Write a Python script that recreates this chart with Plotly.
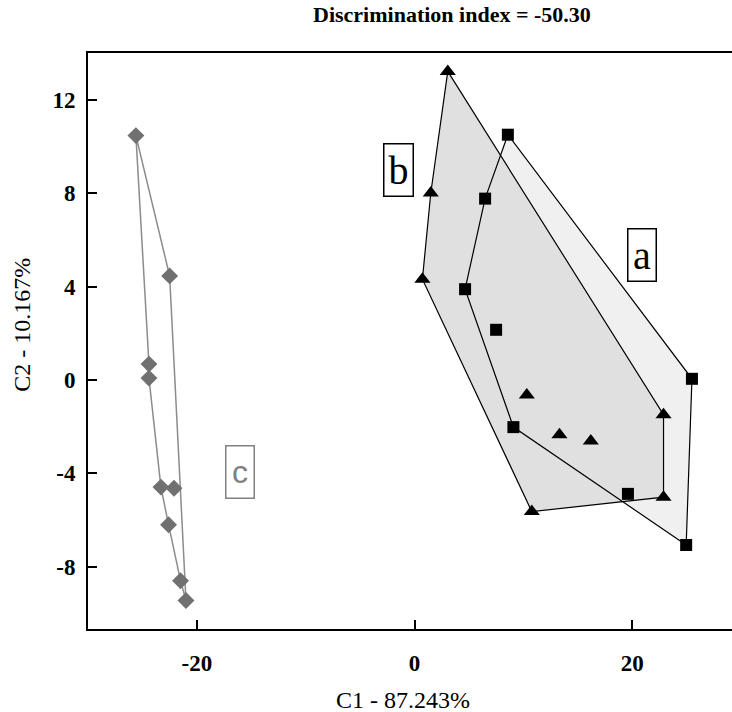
import plotly.graph_objects as go

# Group a (squares)
a_x = [8.57, 6.48, 4.64, 7.49, 25.48, 9.08, 19.6, 24.95]
a_y = [10.51, 7.77, 3.89, 2.15, 0.05, -2.02, -4.88, -7.07]
a_hull = [0, 4, 7, 5, 2, 1]

# Group b (triangles)
b_x = [3.05, 1.49, 0.72, 10.31, 13.31, 16.19, 22.87, 22.87, 10.77]
b_y = [13.22, 8.01, 4.32, -0.64, -2.35, -2.61, -1.49, -5.02, -5.64]
b_hull = [0, 6, 7, 8, 2, 1]

# Group c (diamonds)
c_x = [-25.6, -22.5, -24.4, -24.4, -23.3, -22.1, -22.6, -21.5, -21.0]
c_y = [10.47, 4.46, 0.68, 0.08, -4.59, -4.64, -6.20, -8.60, -9.45]
c_hull = [0, 1, 8, 7, 6, 4, 3, 2]

x_ticks = [-20, 0, 20]
y_ticks = [-8, -4, 0, 4, 8, 12]

title_text = "Discrimination index = -50.30"
x_title = "C1 - 87.243%"
y_title = "C2 - 10.167%"


def closed(xs, ys, order):
    idx = order + [order[0]]
    return [xs[i] for i in idx], [ys[i] for i in idx]


fig = go.Figure()

ax_, ay_ = closed(a_x, a_y, a_hull)
bx_, by_ = closed(b_x, b_y, b_hull)
cx_, cy_ = closed(c_x, c_y, c_hull)

# fills
fig.add_trace(go.Scatter(x=ax_, y=ay_, mode="lines", fill="toself",
                         fillcolor="#f0f0f0", line=dict(width=0, color="rgba(0,0,0,0)")))
fig.add_trace(go.Scatter(x=bx_, y=by_, mode="lines", fill="toself",
                         fillcolor="#e0e0e0", line=dict(width=0, color="rgba(0,0,0,0)")))
# outlines
fig.add_trace(go.Scatter(x=ax_, y=ay_, mode="lines", line=dict(color="black", width=1.2)))
fig.add_trace(go.Scatter(x=bx_, y=by_, mode="lines", line=dict(color="black", width=1.2)))
fig.add_trace(go.Scatter(x=cx_, y=cy_, mode="lines", line=dict(color="#8c8c8c", width=1.5)))
# markers
fig.add_trace(go.Scatter(x=a_x, y=a_y, mode="markers",
                         marker=dict(symbol="square", size=12, color="black")))
fig.add_trace(go.Scatter(x=b_x, y=b_y, mode="markers",
                         marker=dict(symbol="triangle-up", size=14, color="black")))
fig.add_trace(go.Scatter(x=c_x, y=c_y, mode="markers",
                         marker=dict(symbol="diamond", size=13, color="#707070")))

serif = "Liberation Serif"

fig.update_layout(
    width=732, height=712, autosize=False,
    margin=dict(l=88, r=0, t=53, b=83, pad=0),
    paper_bgcolor="white", plot_bgcolor="white",
    showlegend=False, hovermode=False,
    font=dict(family=serif, color="black"),
)

fig.update_xaxes(
    range=[-30.0, 29.16], tickvals=x_ticks, ticktext=[str(v) for v in x_ticks],
    showgrid=False, zeroline=False, showline=True, linecolor="black", linewidth=2,
    mirror=True, ticks="inside", ticklen=9, tickwidth=1.5, tickcolor="black",
    tickfont=dict(family=serif, size=23, weight="bold", color="black"),
    ticklabelstandoff=12,
)
fig.update_yaxes(
    range=[-10.67, 14.01], tickvals=y_ticks, ticktext=[str(v) for v in y_ticks],
    showgrid=False, zeroline=False, showline=True, linecolor="black", linewidth=2,
    mirror=False, ticks="inside", ticklen=9, tickwidth=1.5, tickcolor="black",
    tickfont=dict(family=serif, size=23, weight="bold", color="black"),
    ticklabelstandoff=6,
)

annotations = [
    dict(text=title_text, xref="paper", yref="paper", x=0.565, y=1.0665,
         xanchor="center", yanchor="middle", showarrow=False,
         font=dict(family=serif, size=22, weight="bold", color="black")),
    dict(text=x_title, xref="paper", yref="paper", x=0.489, y=-0.1233,
         xanchor="center", yanchor="middle", showarrow=False,
         font=dict(family=serif, size=24, color="black")),
    dict(text=y_title, xref="paper", yref="paper", x=-0.1025, y=0.528,
         xanchor="center", yanchor="middle", showarrow=False, textangle=-90,
         font=dict(family=serif, size=24, color="black")),
    dict(text="b", x=-1.44, y=9.01, xref="x", yref="y", showarrow=False,
         xanchor="center", yanchor="middle", width=28, height=51,
         bordercolor="black", borderwidth=1.5, borderpad=0, bgcolor="white",
         font=dict(family=serif, size=40, color="black")),
    dict(text="a", x=20.9, y=5.37, xref="x", yref="y", showarrow=False,
         xanchor="center", yanchor="middle", width=27, height=51,
         bordercolor="black", borderwidth=1.5, borderpad=0, bgcolor="white",
         font=dict(family=serif, size=40, color="black")),
    dict(text="c", x=-16.04, y=-3.95, xref="x", yref="y", showarrow=False,
         xanchor="center", yanchor="middle", width=27, height=51,
         bordercolor="#808080", borderwidth=1.5, borderpad=0, bgcolor="white",
         font=dict(family="Liberation Sans", size=32, color="#808080")),
]
fig.update_layout(annotations=annotations)

fig.write_html(
    "out.html",
    config={"displayModeBar": False},
    post_script="document.body.style.margin='0';document.body.style.overflow='hidden';",
)
